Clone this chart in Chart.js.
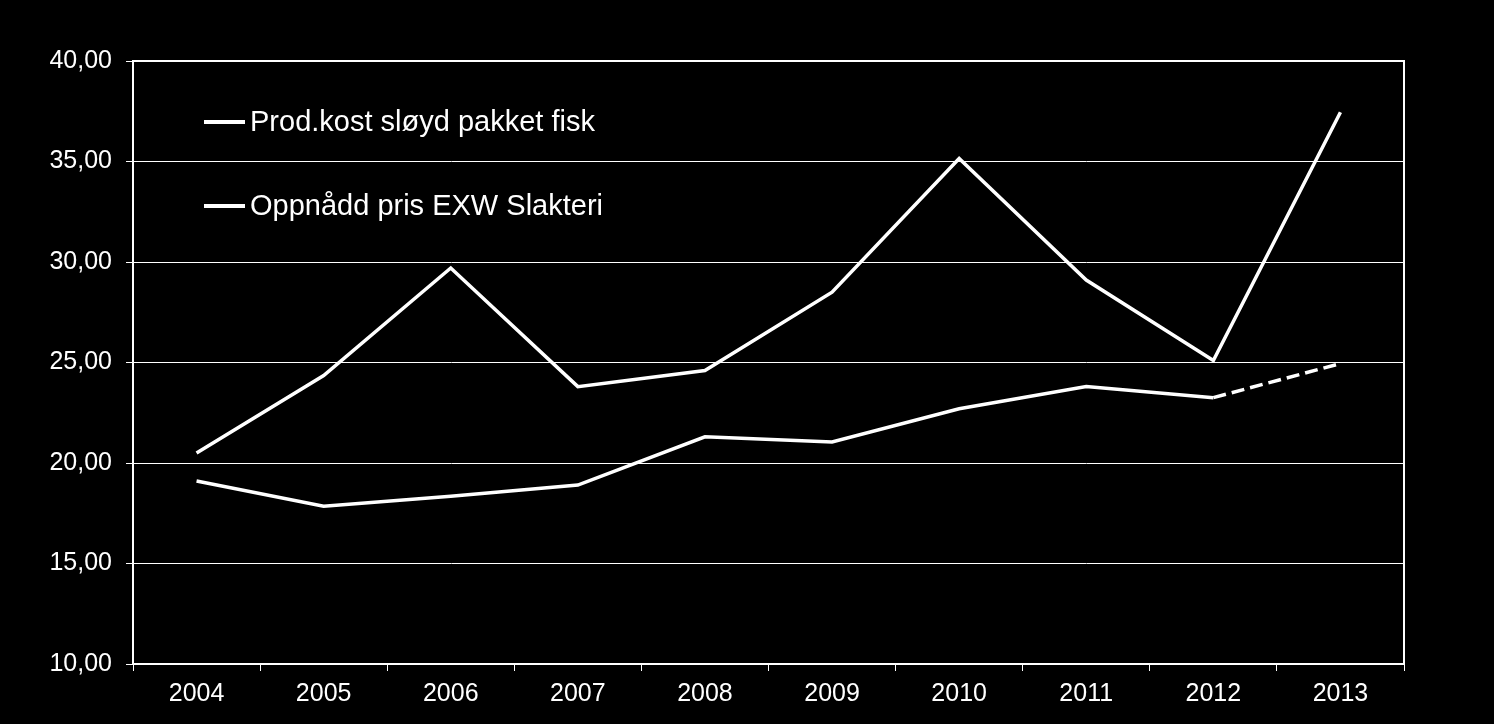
<!DOCTYPE html>
<html>
<head>
<meta charset="utf-8">
<script src="https://cdn.jsdelivr.net/npm/chart.js@4"></script>
<style>
  html, body { margin: 0; padding: 0; background: #000; }
  #wrap { width: 1494px; height: 724px; }
</style>
</head>
<body>
<div id="wrap"><canvas id="chart" width="1494" height="724"></canvas></div>
<script>
const years = ["2004", "2005", "2006", "2007", "2008", "2009", "2010", "2011", "2012", "2013"];
const prodKost = [19.1, 17.85, 18.35, 18.9, 21.3, 21.05, 22.7, 23.8, 23.25, 24.95];
const oppnaddPris = [20.5, 24.35, 29.7, 23.8, 24.6, 28.5, 35.15, 29.1, 25.1, 37.45];
const legendLabels = ["Prod.kost sløyd pakket fisk", "Oppnådd pris EXW Slakteri"];

const FONT = "'Liberation Sans', Arial, sans-serif";

// legend inside the plot + frame round the plot
const boxAndLegend = {
  id: "boxAndLegend",
  afterDraw(chart) {
    const ctx = chart.ctx;
    const a = chart.chartArea;
    ctx.save();
    ctx.strokeStyle = "#fff";
    ctx.lineWidth = 2;
    ctx.strokeRect(a.left, a.top, a.right - a.left, a.bottom - a.top);

    ctx.font = "29px " + FONT;
    ctx.fillStyle = "#fff";
    ctx.textBaseline = "middle";
    legendLabels.forEach((txt, i) => {
      const y = a.top + 61 + i * 84;
      ctx.lineWidth = 4;
      ctx.beginPath();
      ctx.moveTo(a.left + 71, y);
      ctx.lineTo(a.left + 112, y);
      ctx.stroke();
      ctx.fillText(txt, a.left + 117, y + 1);
    });
    ctx.restore();
  }
};

new Chart(document.getElementById("chart"), {
  type: "line",
  data: {
    labels: years,
    datasets: [
      {
        label: legendLabels[0],
        data: prodKost,
        borderColor: "#fff",
        borderWidth: 3.5,
        pointRadius: 0,
        tension: 0,
        segment: {
          borderDash: c => c.p1DataIndex === years.length - 1 ? [13, 6] : undefined
        }
      },
      {
        label: legendLabels[1],
        data: oppnaddPris,
        borderColor: "#fff",
        borderWidth: 3.5,
        pointRadius: 0,
        tension: 0
      }
    ]
  },
  options: {
    responsive: false,
    animation: false,
    layout: { padding: { left: 0, right: 90, top: 61, bottom: 0 } },
    plugins: {
      legend: { display: false },
      tooltip: { enabled: false }
    },
    scales: {
      x: {
        offset: true,
        grid: {
          offset: true,
          drawOnChartArea: false,
          color: "#fff",
          tickLength: 7,
          lineWidth: 1
        },
        border: { color: "#fff", width: 2 },
        ticks: { color: "#fff", font: { family: FONT, size: 25 }, padding: 8, maxRotation: 0 },
        afterFit: s => { s.height = 60; }
      },
      y: {
        min: 10,
        max: 40,
        ticks: {
          stepSize: 5,
          color: "#fff",
          padding: 14,
          font: { family: FONT, size: 25 },
          callback: v => v.toFixed(2).replace(".", ",")
        },
        grid: { color: "#fff", lineWidth: 1, tickLength: 7 },
        border: { color: "#fff", width: 2 },
        afterFit: s => { s.width = 133; }
      }
    }
  },
  plugins: [boxAndLegend]
});
</script>
</body>
</html>
